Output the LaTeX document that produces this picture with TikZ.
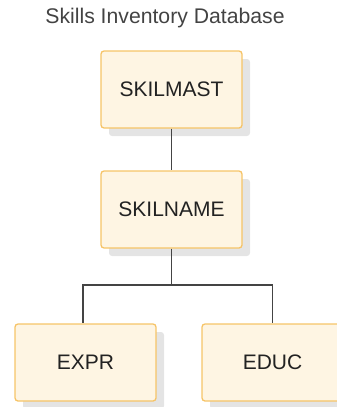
\documentclass[tikz,border=0pt]{standalone}
\usepackage{fontspec}
\setmainfont{Liberation Sans}
\usetikzlibrary{shadows}
\definecolor{boxfill}{HTML}{FEF5E3}
\definecolor{boxline}{HTML}{F6C468}
\definecolor{shade}{HTML}{E4E4E4}
\definecolor{conn}{HTML}{444444}
\definecolor{txt}{HTML}{222222}
\begin{document}
\begin{tikzpicture}[x=1pt,y=-1pt,
  segbox/.style={draw=boxline, line width=1.3pt, fill=boxfill, rounded corners=3pt,
    minimum width=141pt, minimum height=77pt, inner sep=0pt,
    font=\fontsize{21}{25}\selectfont, text=txt,
    drop shadow={shadow xshift=8pt, shadow yshift=-8pt, fill=shade, opacity=1}},
  link/.style={draw=conn, line width=1.2pt}]
\useasboundingbox (0,0) rectangle (337,407);
\node[anchor=base, font=\fontsize{21.2}{25}\selectfont, text=txt!85] (title) at (165,23) {Skills Inventory Database};
\node[segbox] (skilmast) at (171.5,89.5) {SKILMAST};
\node[segbox] (skilname) at (171.5,209.5) {SKILNAME};
\node[segbox] (expr) at (85.5,362.5) {EXPR};
\node[segbox] (educ) at (272.5,362.5) {EDUC};
\draw[link] (skilmast.south) -- (skilname.north);
\coordinate (split) at (171.5,285);
\draw[link] (skilname.south) -- (split);
\draw[link] (split) -| ([xshift=-2.5pt]expr.north);
\draw[link] (split) -| (educ.north);
\end{tikzpicture}
\end{document}
